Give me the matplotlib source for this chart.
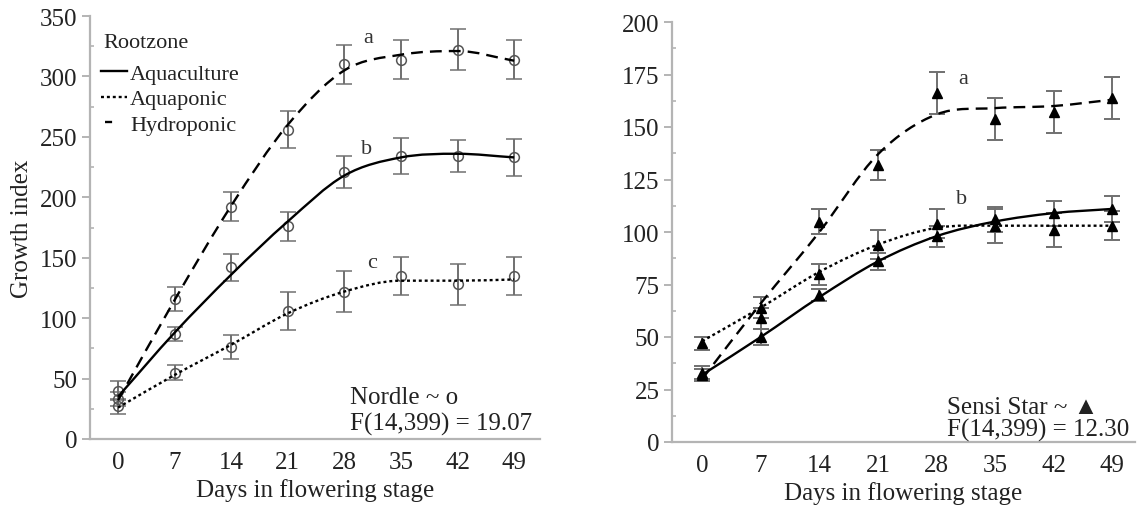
import numpy as np
import matplotlib
matplotlib.use("Agg")
import matplotlib.pyplot as plt
from matplotlib.path import Path
from matplotlib.patches import PathPatch
from matplotlib.lines import Line2D
from matplotlib.ticker import MultipleLocator

plt.rcParams['font.family'] = ['Liberation Serif', 'DejaVu Sans']

# ---------------- data ----------------
days = [0, 7, 14, 21, 28, 35, 42, 49]
series_names = ["Aquaculture", "Aquaponic", "Hydroponic"]

# Nordle (left panel) - observed means and error half-widths
nordle_aquaculture = [33, 87, 142, 176, 221, 234, 234, 233]
nordle_aquaculture_err = [6, 6, 11, 12, 13, 15, 13, 15]
nordle_aquaponic = [27, 55, 76, 106, 122, 135, 128, 135]
nordle_aquaponic_err = [6, 6, 10, 16, 17, 16, 17, 16]
nordle_hydroponic = [40, 116, 192, 256, 310, 314, 322, 314]
nordle_hydroponic_err = [8, 10, 12, 15, 16, 16, 17, 16]
# Nordle fitted curves (read at each day)
nordle_aquaculture_fit = [35, 88, 136, 180, 218, 233, 236, 233]
nordle_aquaponic_fit = [26, 53, 78, 104, 122, 131, 131, 132]
nordle_hydroponic_fit = [32, 115, 193, 260, 305, 318, 321, 313]

# Sensi Star (right panel)
sensi_aquaculture = [32, 50, 70, 86, 98, 106, 109, 111]
sensi_aquaculture_err = [3, 4, 3, 4, 5, 6, 6, 6]
sensi_aquaponic = [47, 64, 80, 94, 104, 103, 101, 103]
sensi_aquaponic_err = [3, 5, 5, 7, 7, 8, 8, 7]
sensi_hydroponic = [33, 59, 105, 132, 166, 154, 157, 164]
sensi_hydroponic_err = [3, 5, 6, 7, 10, 10, 10, 10]
sensi_aquaculture_fit = [32, 50, 69, 86, 98, 105, 109, 111]
sensi_aquaponic_fit = [48, 64, 81, 94, 102, 103, 103, 103]
sensi_hydroponic_fit = [30, 66, 100, 137, 156, 159, 160, 163]

nordle_letters = [("a", 31, 332), ("b", 30.8, 240), ("c", 31.4, 146)]
sensi_letters = [("a", 31.2, 173), ("b", 31, 116)]

# ---------------- styles ----------------
LW = 1.7
styles = {
    "Aquaculture": "-",
    "Aquaponic": (0, (1.25, 1.25)),
    "Hydroponic": (0, (5.0, 3.0)),
}
SPINE = "#b4b4b4"
ERRC = "#707070"
FS = 18


def smooth_path(xs, ys):
    x = np.asarray(xs, float)
    y = np.asarray(ys, float)
    n = len(x)
    d = np.diff(y) / np.diff(x)
    m = np.empty(n)
    m[0] = d[0]
    m[-1] = d[-1]
    for i in range(1, n - 1):
        m[i] = 0.0 if d[i - 1] * d[i] <= 0 else (d[i - 1] + d[i]) / 2
    verts = [(x[0], y[0])]
    codes = [Path.MOVETO]
    for i in range(n - 1):
        h = x[i + 1] - x[i]
        verts += [(x[i] + h / 3, y[i] + m[i] * h / 3),
                  (x[i + 1] - h / 3, y[i + 1] - m[i + 1] * h / 3),
                  (x[i + 1], y[i + 1])]
        codes += [Path.CURVE4] * 3
    return Path(verts, codes)


def style_axes(ax, ymax, major, xlim):
    ax.set_xlim(*xlim)
    ax.set_ylim(0, ymax)
    for s in ["top", "right"]:
        ax.spines[s].set_visible(False)
    for s in ["left", "bottom"]:
        ax.spines[s].set_color(SPINE)
        ax.spines[s].set_linewidth(1.6)
    ax.set_xticks(days)
    ax.yaxis.set_major_locator(MultipleLocator(major))
    ax.yaxis.set_minor_locator(MultipleLocator(major / 2))
    ax.tick_params(axis="x", length=0, pad=9, labelsize=FS, colors="#222")
    ax.tick_params(axis="y", which="major", length=6, width=1.4, color=SPINE,
                   pad=3, labelsize=FS, labelcolor="#222")
    ax.tick_params(axis="y", which="minor", length=3, width=1.2, color=SPINE,
                   direction="in")
    ax.set_xlabel("Days in flowering stage", fontsize=FS, color="#222", labelpad=3)


fig = plt.figure(figsize=(11.37, 5.06), dpi=100)

# ---------------- left panel ----------------
ax1 = fig.add_axes([90 / 1137, 66 / 506, 450 / 1137, 423 / 506])
style_axes(ax1, 350, 50, (-3.47, 52.2))
ax1.set_ylabel("Growth index", fontsize=FS, color="#222", labelpad=5)

obs = [nordle_aquaculture, nordle_aquaponic, nordle_hydroponic]
errs = [nordle_aquaculture_err, nordle_aquaponic_err, nordle_hydroponic_err]
fits = [nordle_aquaculture_fit, nordle_aquaponic_fit, nordle_hydroponic_fit]
for name, y, e, f in zip(series_names, obs, errs, fits):
    ax1.errorbar(days, y, yerr=e, fmt="o", ms=7, mfc="none", mec="#555",
                 mew=1.1, ecolor=ERRC, elinewidth=1.4, capsize=6, capthick=1.4,
                 zorder=2)
    ax1.add_patch(PathPatch(smooth_path(days, f), fill=False, edgecolor="black",
                            lw=LW, linestyle=styles[name], zorder=3))
for t, xx, yy in nordle_letters:
    ax1.text(xx, yy, t, fontsize=16, ha="center", va="center", color="#333")

ax1.text(28.7, 35, "Nordle ~ o", fontsize=FS, ha="left", va="center", color="#222")
ax1.text(28.7, 13, "F(14,399) = 19.07", fontsize=FS, ha="left", va="center",
         color="#222")

# legend: title as separate text, entries below
ax1.text(0.029, 0.9385, "Rootzone", transform=ax1.transAxes, fontsize=16,
         ha="left", va="center", color="#222")
handles = [Line2D([], [], color="black", lw=LW, linestyle="-"),
           Line2D([], [], color="black", lw=LW, linestyle=(0, (1.25, 1.25))),
           Line2D([], [], color="black", lw=LW,
                  linestyle=(9.6, (3.0, 8.3)))]
leg = ax1.legend(handles, series_names, loc="upper left",
                 bbox_to_anchor=(0.025, 0.888), frameon=False, fontsize=16,
                 handlelength=1.15, handletextpad=0.15,
                 labelspacing=0.22, borderpad=0, borderaxespad=0)
for txt in leg.get_texts():
    txt.set_color("#222")

# ---------------- right panel ----------------
ax2 = fig.add_axes([672 / 1137, 63 / 506, 463 / 1137, 420 / 506])
style_axes(ax2, 200, 25, (-3.6, 51.7))

obs = [sensi_aquaculture, sensi_aquaponic, sensi_hydroponic]
errs = [sensi_aquaculture_err, sensi_aquaponic_err, sensi_hydroponic_err]
fits = [sensi_aquaculture_fit, sensi_aquaponic_fit, sensi_hydroponic_fit]
for name, y, e, f in zip(series_names, obs, errs, fits):
    ax2.errorbar(days, y, yerr=e, fmt="^", ms=7, mfc="black", mec="black",
                 ecolor=ERRC, elinewidth=1.4, capsize=6, capthick=1.4, zorder=2)
    ax2.add_patch(PathPatch(smooth_path(days, f), fill=False, edgecolor="black",
                            lw=LW, linestyle=styles[name], zorder=3))
for t, xx, yy in sensi_letters:
    ax2.text(xx, yy, t, fontsize=16, ha="center", va="center", color="#333")

ax2.text(29.3, 16.5, "Sensi Star ~ \u25B2", fontsize=FS, ha="left", va="center",
         color="#222")
ax2.text(29.3, 6, "F(14,399) = 12.30", fontsize=FS, ha="left", va="center",
         color="#222")

fig.savefig("out.png", dpi=100)
